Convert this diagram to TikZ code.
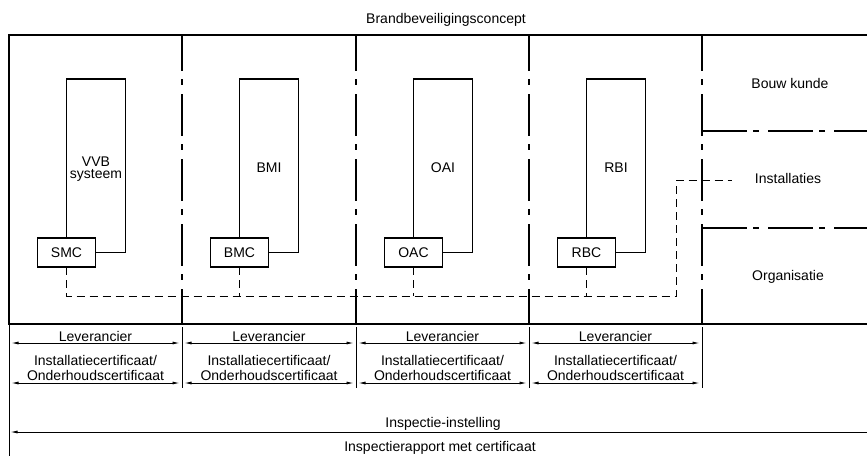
\documentclass[tikz,border=0pt]{standalone}
\usepackage{fontspec}
\setmainfont{Liberation Sans}
\usetikzlibrary{arrows.meta}
\tikzset{mytip/.tip={Latex[length=7pt,width=3pt]}}
\begin{document}
\begin{tikzpicture}[x=1pt,y=-1pt,
  every node/.style={font=\fontsize{14}{15}\selectfont, inner sep=0pt, outer sep=0pt},
  frame/.style={line width=1.6pt},
  vdiv/.style={line width=1.6pt, dash pattern=on 42pt off 8pt on 6pt off 9pt, dash phase=6pt},
  hdiv/.style={line width=1.6pt, dash pattern=on 45pt off 6pt on 6pt off 9pt},
  inner/.style={line width=1.1pt},
  mcbox/.style={draw, line width=1.1pt, minimum width=58pt, minimum height=29pt},
  bus/.style={line width=0.9pt, dash pattern=on 8pt off 5pt},
  thinline/.style={line width=0.9pt},
  dim/.style={line width=0.8pt}
]
\useasboundingbox (0,0) rectangle (867,456);

% title
\node[anchor=base] (title) at (446,23) {Brandbeveiligingsconcept};

% outer frame
\draw[frame] (867,35) -- (9,35) -- (9,324) -- (867,324);
\draw[thinline] (9,324) -- (9,456);

% column dividers
\foreach \x in {182,356,529,702}
  \draw[vdiv] (\x,35) -- (\x,324);

% right section separators
\draw[hdiv] (702,131) -- (867,131);
\draw[hdiv] (702,228) -- (867,228);
\node[anchor=base] (bouw) at (790,88) {Bouw kunde};
\node[anchor=base] (inst) at (788,183) {Installaties};
\node[anchor=base] (org) at (788,280) {Organisatie};

% columns: control box + installation rectangle
\foreach \i/\bt/\cx in {0/SMC/96,1/BMC/269,2/OAC/443,3/RBC/616}{
  \node[mcbox] (m\i) at (\cx-29.5,252.5) {\bt};
  \coordinate (t\i) at (\cx+29.5,79);
  \draw[inner] (m\i.north) |- (t\i) |- (m\i.east);
}
\node[align=center, font=\fontsize{14}{12.5}\selectfont] (l0) at (96,169) {VVB\\systeem};
\node (l1) at (269,167.5) {BMI};
\node (l2) at (443,167.5) {OAI};
\node (l3) at (616,167.5) {RBI};

% dashed bus
\coordinate (bc) at (676,296);
\coordinate (bt) at (676,180);
\coordinate (be) at (732,180);
\draw[bus] (m0.south) |- (bc) -- (bt) -- (be);
\foreach \i in {1,2,3}
  \draw[bus] (m\i.south) -- (m\i.south |- bc);

% bottom: suppliers
\foreach \x in {182,356,529,702}
  \draw[thinline] (\x,327) -- (\x,388);
\foreach \a/\b [count=\k] in {9/182,182/356,356/529,529/702}{
  \draw[dim,mytip-mytip] (\a+2.5,343) -- (\b-2.5,343);
  \draw[dim,mytip-mytip] (\a+2.5,383) -- (\b-2.5,383);
  \node[anchor=base] (lev\k) at ({(\a+\b)/2},341) {Leverancier};
  \node[anchor=base] (ic\k) at ({(\a+\b)/2},365) {Installatiecertificaat/};
  \node[anchor=base] (oc\k) at ({(\a+\b)/2},380) {Onderhoudscertificaat};
}

% inspection
\draw[dim,mytip-] (10.5,432) -- (867,432);
\node[anchor=base] (insp) at (443,427) {Inspectie-instelling};
\node[anchor=base] (rapp) at (440,451) {Inspectierapport met certificaat};
\end{tikzpicture}
\end{document}
